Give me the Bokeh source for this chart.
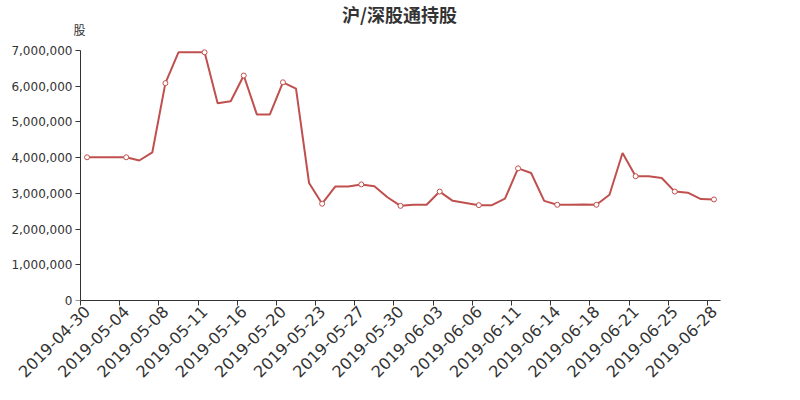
import math
from bokeh.plotting import figure
from bokeh.models import FixedTicker, Range1d, Label, ColumnDataSource, NumeralTickFormatter, LinearAxis
from bokeh.embed import file_html
from bokeh.resources import INLINE

dates = ["2019-04-30", "2019-05-02", "2019-05-03", "2019-05-04", "2019-05-06", "2019-05-07",
         "2019-05-08", "2019-05-09", "2019-05-10", "2019-05-11", "2019-05-14", "2019-05-15",
         "2019-05-16", "2019-05-17", "2019-05-18", "2019-05-20", "2019-05-21", "2019-05-22",
         "2019-05-23", "2019-05-24", "2019-05-25", "2019-05-27", "2019-05-28", "2019-05-29",
         "2019-05-30", "2019-05-31", "2019-06-01", "2019-06-03", "2019-06-04", "2019-06-05",
         "2019-06-06", "2019-06-08", "2019-06-10", "2019-06-11", "2019-06-12", "2019-06-13",
         "2019-06-14", "2019-06-15", "2019-06-17", "2019-06-18", "2019-06-19", "2019-06-20",
         "2019-06-21", "2019-06-22", "2019-06-24", "2019-06-25", "2019-06-26", "2019-06-27",
         "2019-06-28"]

holdings = [4010000, 4010000, 4010000, 4010000, 3920000, 4150000,
            6085000, 6950000, 6950000, 6950000, 5520000, 5580000,
            6300000, 5210000, 5210000, 6110000, 5930000, 3290000,
            2710000, 3190000, 3190000, 3250000, 3200000, 2890000,
            2650000, 2680000, 2680000, 3050000, 2790000, 2730000,
            2670000, 2670000, 2850000, 3700000, 3570000, 2790000,
            2680000, 2680000, 2690000, 2680000, 2960000, 4130000,
            3480000, 3480000, 3430000, 3050000, 3020000, 2840000,
            2830000]

title_text = "沪/深股通持股"
unit_text = "股"
y_ticks = [0, 1000000, 2000000, 3000000, 4000000, 5000000, 6000000, 7000000]
y_max = 7000000

n = len(dates)
xs = [i + 0.5 for i in range(n)]
src = ColumnDataSource(dict(x=xs, y=holdings, d=dates))
mk_idx = list(range(0, n, 3))
mk = ColumnDataSource(dict(x=[xs[i] for i in mk_idx], y=[holdings[i] for i in mk_idx]))

# axes span 640 x 250 px; the frame is extended up/left to hold the title texts
px_per_cat = 640 / n
left_pad = 8
top_pad = 50
x_start = -left_pad / px_per_cat
y_end = y_max * (250 + top_pad) / 250

p = figure(frame_width=640 + left_pad, frame_height=250 + top_pad, output_backend="svg",
           toolbar_location=None,
           x_range=Range1d(x_start, n), y_range=Range1d(0, y_end),
           min_border_left=72, min_border_right=72, min_border_top=0, min_border_bottom=92)
p.outline_line_color = None
p.xgrid.visible = False
p.ygrid.visible = False
p.background_fill_color = "white"
p.border_fill_color = "white"

col = "#c0504d"
p.line("x", "y", source=src, line_color=col, line_width=2)
p.scatter("x", "y", source=mk, size=5, marker="circle", fill_color="white", line_color=col, line_width=1)

axc = "#333333"
p.xaxis.ticker = FixedTicker(ticks=[xs[i] for i in mk_idx], minor_ticks=[i for i in range(0, n + 1, 3)])
p.xaxis.major_label_overrides = {xs[i]: dates[i] for i in mk_idx}
p.xaxis.bounds = (0, n)
p.xaxis.major_tick_out = 0
p.xaxis.major_tick_in = 0
p.xaxis.minor_tick_out = 5
p.xaxis.minor_tick_in = 0
p.xaxis.minor_tick_line_color = axc
p.xaxis.axis_line_color = axc
p.xaxis.major_label_orientation = math.pi / 4
p.xaxis.major_label_text_font = "DejaVu Sans"
p.xaxis.major_label_text_font_size = "16px"
p.xaxis.major_label_text_color = axc
p.xaxis.major_label_standoff = 3

# y axis A: labels only, at the frame's left edge
p.yaxis.ticker = FixedTicker(ticks=y_ticks)
p.yaxis.formatter = NumeralTickFormatter(format="0,0")
p.yaxis.axis_line_color = None
p.yaxis.major_tick_line_color = None
p.yaxis.minor_tick_line_color = None
p.yaxis.major_tick_out = 0
p.yaxis.major_tick_in = 0
p.yaxis.major_label_text_font = "DejaVu Sans"
p.yaxis.major_label_text_font_size = "12px"
p.yaxis.major_label_text_color = axc
p.yaxis.major_label_standoff = 0

# y axis B: line and ticks at x = 0
yb = LinearAxis(ticker=FixedTicker(ticks=y_ticks), bounds=(0, y_max), fixed_location=0,
                axis_line_color=axc, major_tick_line_color=axc, minor_tick_line_color=None,
                major_tick_out=5, major_tick_in=0, major_label_text_font_size="0px",
                major_label_standoff=0, major_label_text_alpha=0)
p.add_layout(yb, "left")

p.add_layout(Label(x=327, y=287, x_units="screen", y_units="screen", text=title_text,
                   text_align="center", text_baseline="middle", text_font="Noto Sans CJK SC",
                   text_font_style="bold", text_font_size="18px", text_color="#333333"))
p.add_layout(Label(x=7, y=271, x_units="screen", y_units="screen", text=unit_text,
                   text_align="center", text_baseline="middle", text_font="Noto Sans CJK SC",
                   text_font_size="12px", text_color="#333333"))

open("out.html", "w").write(file_html(p, INLINE))
